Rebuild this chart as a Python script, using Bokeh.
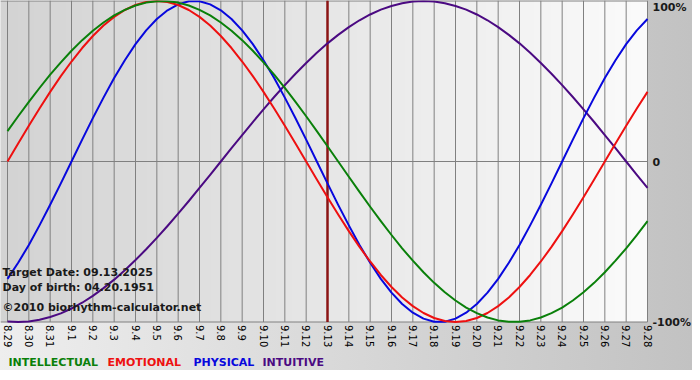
import math
import numpy as np
from bokeh.plotting import figure
from bokeh.models import Label, Range1d
from bokeh.embed import file_html
from bokeh.resources import INLINE

days = ["8.29", "8.30", "8.31", "9.1", "9.2", "9.3", "9.4", "9.5", "9.6", "9.7",
        "9.8", "9.9", "9.10", "9.11", "9.12", "9.13", "9.14", "9.15", "9.16", "9.17",
        "9.18", "9.19", "9.20", "9.21", "9.22", "9.23", "9.24", "9.25", "9.26", "9.27", "9.28"]

intellectual = [18.9, 28.2, 37.2, 45.8, 54.1, 61.8, 69.0, 75.6, 81.5, 86.6,
                91.0, 94.5, 97.2, 99.0, 99.9, 99.9, 99.0, 97.2, 94.5, 91.0,
                86.6, 81.5, 75.6, 69.0, 61.8, 54.1, 45.8, 37.2, 28.2, 18.9,
                9.5, 0.0, -9.5, -18.9, -28.2, -37.2, -45.8, -54.1, -61.8, -69.0,
                -75.6, -81.5, -86.6, -91.0, -94.5, -97.2, -99.0, -99.9, -99.9, -99.0,
                -97.2, -94.5, -91.0, -86.6, -81.5, -75.6, -69.0, -61.8, -54.1, -45.8, -37.2]
emotional = [0.0, 11.2, 22.3, 33.0, 43.4, 53.2, 62.3, 70.7, 78.2, 84.7,
             90.1, 94.4, 97.5, 99.4, 100.0, 99.4, 97.5, 94.4, 90.1, 84.7,
             78.2, 70.7, 62.3, 53.2, 43.4, 33.0, 22.3, 11.2, 0.0, -11.2,
             -22.3, -33.0, -43.4, -53.2, -62.3, -70.7, -78.2, -84.7, -90.1, -94.4,
             -97.5, -99.4, -100.0, -99.4, -97.5, -94.4, -90.1, -84.7, -78.2, -70.7,
             -62.3, -53.2, -43.4, -33.0, -22.3, -11.2, 0.0, 11.2, 22.3, 33.0, 43.4]
physical = [-73.1, -63.1, -52.0, -39.8, -27.0, -13.6, 0.0, 13.6, 27.0, 39.8,
            52.0, 63.1, 73.1, 81.7, 88.8, 94.2, 97.9, 99.8, 99.8, 97.9,
            94.2, 88.8, 81.7, 73.1, 63.1, 52.0, 39.8, 27.0, 13.6, 0.0,
            -13.6, -27.0, -39.8, -52.0, -63.1, -73.1, -81.7, -88.8, -94.2, -97.9,
            -99.8, -99.8, -97.9, -94.2, -88.8, -81.7, -73.1, -63.1, -52.0, -39.8,
            -27.0, -13.6, 0.0, 13.6, 27.0, 39.8, 52.0, 63.1, 73.1, 81.7, 88.8]
intuitive = [-99.7, -100.0, -99.7, -98.6, -96.9, -94.6, -91.6, -88.0, -83.7, -78.9,
             -73.6, -67.7, -61.4, -54.7, -47.6, -40.2, -32.5, -24.6, -16.5, -8.3,
             0.0, 8.3, 16.5, 24.6, 32.5, 40.2, 47.6, 54.7, 61.4, 67.7,
             73.6, 78.9, 83.7, 88.0, 91.6, 94.6, 96.9, 98.6, 99.7, 100.0,
             99.7, 98.6, 96.9, 94.6, 91.6, 88.0, 83.7, 78.9, 73.6, 67.7,
             61.4, 54.7, 47.6, 40.2, 32.5, 24.6, 16.5, 8.3, 0.0, -8.3, -16.5]

target_day = "9.13"
target_date = "09.13.2025"
birth_date = "04.20.1951"
copyright_text = "\u00a92010 biorhythm-calculator.net"

pct_ticks = [100, 0, -100]
pct_labels = ["100%", "0", "-100%"]

series_names = ["INTELLECTUAL", "EMOTIONAL", "PHYSICAL", "INTUITIVE"]
series_colors = ["#0a800a", "#ee1010", "#0808dd", "#4b0a82"]
series_values = [intellectual, emotional, physical, intuitive]

# ---- geometry ----
W, H = 692, 370
LEFT_PAD = 7          # pixels left of the first day line
PLOT_W = 640          # pixel width of the day area
PLOT_H = 321          # pixel height of the -100..100 area
n_days = len(days)
day_x = list(range(n_days))
half_x = [j / 2 for j in range(len(physical))]

px_per_day = PLOT_W / (n_days - 1)
xstart = -LEFT_PAD / px_per_day
xend = xstart + W / px_per_day

px_per_unit = PLOT_H / 200.0
ytop = 100 + 0.5 / px_per_unit
ybot = ytop - H / px_per_unit

FONT = "DejaVu Sans"

p = figure(width=W, height=H, output_backend="svg", toolbar_location=None,
           x_range=Range1d(xstart, xend), y_range=Range1d(ybot, ytop),
           x_axis_type=None, y_axis_type=None,
           min_border_left=0, min_border_right=0, min_border_top=0, min_border_bottom=0)
p.background_fill_color = None
p.border_fill_color = None
p.outline_line_color = None
p.grid.visible = False
p.styles = {"background": "linear-gradient(to right, #eeeeee, #c2c2c2)"}

# plot-area gradient background
cols = PLOT_W + LEFT_PAD
img = np.zeros((1, cols), dtype=np.uint32)
view = img.view(dtype=np.uint8).reshape((1, cols, 4))
g = np.linspace(0xd3, 0xfb, cols).astype(np.uint8)
view[0, :, 0] = g
view[0, :, 1] = g
view[0, :, 2] = g
view[0, :, 3] = 255
p.image_rgba(image=[img], x=xstart, y=min(pct_ticks), dw=(n_days - 1) - xstart,
             dh=ytop - min(pct_ticks), level="image")

# grid lines (one per day, and at -100 / 0 / 100 %)
p.segment(x0=day_x, y0=[min(pct_ticks)] * n_days, x1=day_x, y1=[ytop] * n_days,
          line_color="#808080", line_width=1)
p.segment(x0=[xstart] * len(pct_ticks), y0=pct_ticks, x1=[n_days - 1] * len(pct_ticks),
          y1=pct_ticks, line_color="#808080", line_width=1)

# target date marker
t_idx = days.index(target_day)
p.segment(x0=[t_idx], y0=[min(pct_ticks)], x1=[t_idx], y1=[ytop],
          line_color="#8b1414", line_width=2.5)

# curves
for name, col, vals in reversed(list(zip(series_names, series_colors, series_values))):
    p.line(half_x, vals, line_color=col, line_width=2, line_join="round")

# date tick labels (rotated, reading downward)
p.text(x=day_x, y=[min(pct_ticks)] * n_days, text=days, angle=-math.pi / 2,
       y_offset=3, text_align="left", text_baseline="middle",
       text_font={"value": FONT}, text_font_size="10px", text_color="#000000")

# percentage labels on the right
p.text(x=[n_days - 1] * len(pct_ticks), y=pct_ticks, text=pct_labels,
       x_offset=5, y_offset=[6 if v == max(pct_ticks) else 0 for v in pct_ticks],
       text_align="left", text_baseline="middle",
       text_font={"value": FONT}, text_font_style="bold", text_font_size="11px",
       text_color="#1a1a1a")

# info texts
info = [("Target Date: " + target_date, 98), ("Day of birth: " + birth_date, 83),
        (copyright_text, 63)]
for t, yy in info:
    p.add_layout(Label(x=2, y=yy, x_units="screen", y_units="screen", text=t,
                       text_font=FONT, text_font_style="bold",
                       text_font_size="11px", text_color="#1a1a1a",
                       text_baseline="middle"))

# legend texts
legend_x = [8, 107, 193, 262]
for name, col, lx in zip(series_names, series_colors, legend_x):
    p.add_layout(Label(x=lx, y=8, x_units="screen", y_units="screen", text=name,
                       text_font=FONT, text_font_style="bold",
                       text_font_size="11px", text_color=col,
                       text_baseline="middle"))

open("out.html", "w").write(file_html(p, INLINE))
